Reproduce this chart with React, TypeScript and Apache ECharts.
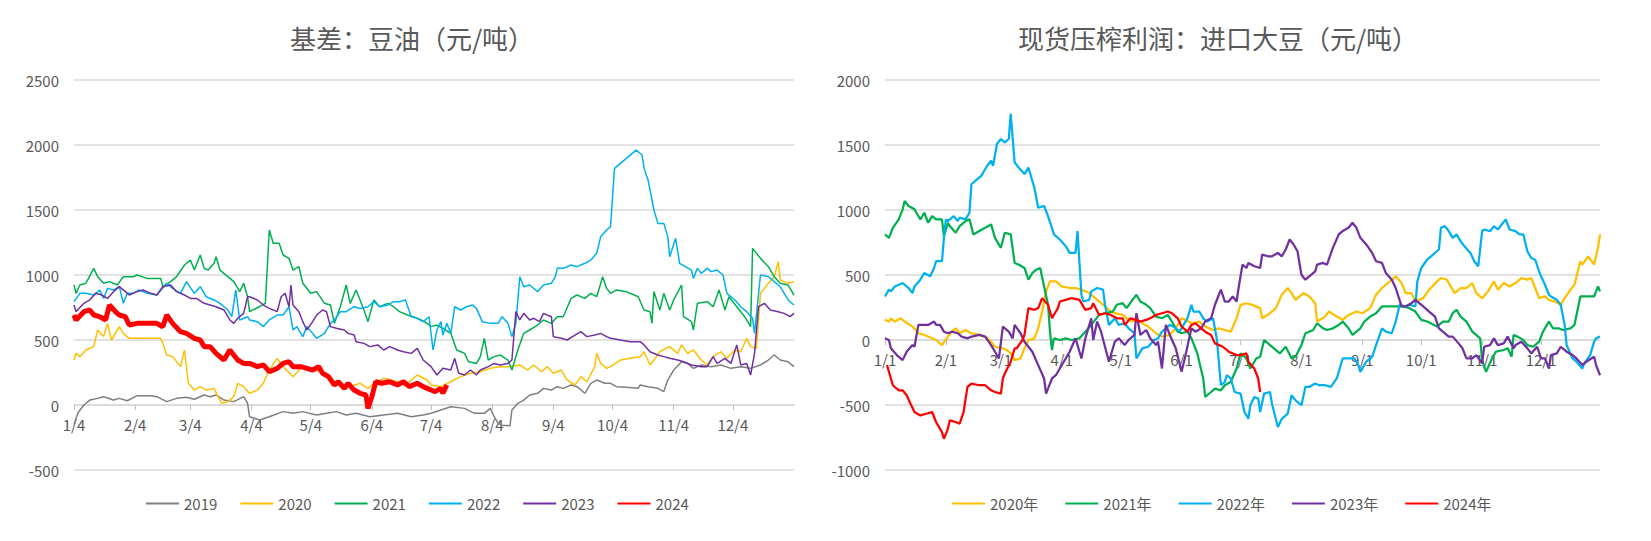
import React, { useEffect, useRef } from "react";
import * as echarts from "echarts";

// ---------- categories (day of year) ----------
const MONTH_DAYS = [31, 28, 31, 30, 31, 30, 31, 31, 30, 31, 30, 31];
function buildDays(startMonth: number, startDay: number, count: number): string[] {
  const out: string[] = [];
  let m = startMonth - 1;
  let d = startDay;
  for (let i = 0; i < count; i++) {
    out.push(`${m + 1}/${d}`);
    d++;
    if (d > MONTH_DAYS[m]) {
      d = 1;
      m = (m + 1) % 12;
    }
  }
  return out;
}
const basisCategories = buildDays(1, 4, 366); // 1/4 ... 1/4
const crushCategories = buildDays(1, 1, 365); // 1/1 ... 12/31

const basisTitle = "基差：豆油（元/吨）";
const crushTitle = "现货压榨利润：进口大豆（元/吨）";

const basisYears = ["2019", "2020", "2021", "2022", "2023", "2024"];
const crushYears = ["2020年", "2021年", "2022年", "2023年", "2024年"];

// ---------- left chart: soybean oil basis, [day index from 1/4, value] ----------
const basis2019 = [[0,-150],[2,-60],[5,0],[8,38],[12,51],[15,64],[20,38],[23,51],[27,33],[32,72],[39,72],[42,64],[47,26],[52,51],[57,59],[61,44],[66,77],[69,64],[72,77],[76,38],[81,26],[86,64],[88,13],
  [89,-90],[94,-115],[99,-90],[106,-51],[111,-64],[116,-51],[123,-77],[128,-64],[133,-51],[138,-77],[143,-64],[150,-90],[157,-77],[164,-64],[171,-90],[177,-77],
  [181,-64],[186,-38],[191,-13],[198,-26],[203,-64],[208,-64],[211,-26],[213,-90],[215,-141],[217,-155],[221,-160],[222,-38],[225,13],[228,38],[231,77],[235,90],[238,128],[242,115],[245,141],[248,128],[252,154],[255,141],[259,90],[262,167],[265,192],[269,167],
  [272,167],[275,141],[280,136],[286,128],[287,154],[291,141],[296,128],[299,103],[301,192],[304,269],[308,333],[311,320],[314,282],[318,308],[323,295],[328,308],[333,282],[338,295],[343,282],[348,308],[352,346],[355,385],[358,346],[362,333],[365,295]];

const basis2020 = [[0,346],[1,397],[3,372],[6,423],[10,449],[12,577],[15,526],[17,628],[19,500],[23,602],[25,551],[28,513],[32,513],[37,513],[44,513],[45,474],[47,385],[50,372],[54,295],[56,423],[58,167],[61,115],[64,141],[67,115],[71,128],[73,64],[75,13],[78,26],[81,64],[83,167],[86,141],
  [89,90],[93,115],[96,167],[99,269],[103,359],[106,295],[111,218],[115,282],[120,282],[125,256],[130,192],[135,167],[140,141],[145,167],[149,128],[152,167],[157,205],[164,179],[169,167],[174,231],[179,192],
  [181,154],[186,141],[191,179],[196,218],[201,244],[206,256],[211,282],[216,295],[221,295],[226,308],[230,269],[233,308],[237,256],[240,295],[243,244],[247,269],[250,192],[254,154],[257,218],[260,179],[264,295],[265,397],[267,320],[270,282],
  [272,295],[277,346],[282,359],[287,372],[289,410],[292,308],[294,346],[297,410],[302,449],[306,397],[308,462],[311,397],[314,423],[318,346],[321,308],[324,372],[328,410],[331,359],[335,423],[338,410],[341,513],[343,449],[346,436],[348,859],[352,936],[355,987],[357,1103],[358,962],[362,936],[365,949]];

const basis2021 = [[0,923],[1,859],[3,923],[6,936],[10,1051],[12,987],[15,936],[18,949],[22,923],[25,987],[30,987],[32,1000],[37,974],[44,974],[45,910],[49,949],[52,987],[56,1077],[59,1115],[61,1038],[64,1154],[66,1051],[68,1038],[71,1090],[72,1141],[74,1038],[78,987],[81,949],[84,872],[86,936],[88,833],
  [89,718],[94,756],[97,782],[99,1346],[101,1244],[104,1244],[106,1154],[109,1128],[111,1038],[114,1064],[116,936],[120,859],[123,872],[127,782],[130,769],[132,628],[135,756],[138,923],[140,782],[143,885],[147,731],[149,641],[152,808],[155,756],[159,782],[162,756],[165,718],[169,692],[172,679],[176,654],[179,628],
  [181,603],[184,615],[187,590],[191,551],[194,423],[198,397],[200,333],[204,320],[206,372],[208,513],[210,346],[213,372],[216,385],[220,346],[222,269],[225,423],[228,551],[231,577],[235,615],[238,654],[242,628],[245,679],[248,679],[252,820],[255,846],[259,820],[262,859],[265,833],[268,987],[270,897],
  [272,859],[275,885],[280,872],[286,833],[289,731],[292,718],[293,628],[294,872],[297,731],[299,859],[302,731],[304,808],[308,923],[309,679],[313,641],[314,577],[316,782],[321,795],[324,756],[327,885],[330,731],[332,833],[336,756],[340,679],[343,603],[344,1205],[348,1128],[352,1064],[355,987],[358,936],[362,923],[365,846]];

const basis2022 = [[0,795],[3,859],[6,859],[10,846],[13,885],[15,820],[17,897],[20,885],[23,910],[25,782],[27,859],[30,859],[33,885],[37,859],[42,846],[47,936],[50,897],[54,859],[57,949],[61,859],[64,910],[67,833],[71,808],[74,782],[78,731],[80,679],[82,885],[84,654],[88,679],
  [89,654],[93,641],[96,603],[99,654],[103,692],[106,692],[109,756],[111,577],[113,603],[116,526],[118,603],[121,551],[123,513],[127,551],[130,628],[132,654],[135,718],[138,718],[142,756],[145,743],[149,756],[152,795],[155,756],[159,769],[162,795],[165,795],[168,808],[171,679],[174,667],[177,641],[180,679],[182,423],
  [184,577],[186,641],[187,538],[189,628],[191,551],[193,756],[196,731],[199,756],[202,769],[204,743],[207,641],[211,628],[215,628],[217,679],[220,628],[222,526],[224,628],[226,987],[228,910],[231,923],[235,872],[238,923],[242,936],[244,987],[245,1051],[248,1051],[252,1077],[255,1064],[259,1090],[262,1115],[265,1167],[267,1295],[270,1346],
  [272,1372],[274,1820],[285,1961],[288,1923],[289,1820],[291,1731],[294,1500],[296,1397],[299,1397],[301,1295],[302,1141],[305,1282],[307,1090],[310,1064],[313,1038],[314,974],[316,1051],[318,1013],[321,1051],[323,1026],[326,1038],[329,1000],[331,859],[335,808],[338,756],[341,718],[344,667],[345,551],[348,1000],[352,987],[355,949],[358,910],[362,808],[365,769]];

const basis2023 = [[0,769],[1,718],[5,782],[8,808],[11,859],[14,846],[17,820],[20,872],[23,910],[26,872],[28,846],[32,872],[35,885],[39,859],[42,846],[45,910],[49,923],[52,872],[56,846],[59,820],[62,820],[66,782],[69,769],[72,756],[76,731],[79,654],[81,628],[83,667],[86,705],[88,833],
  [89,833],[93,808],[96,769],[99,743],[103,718],[105,833],[107,859],[109,756],[110,923],[111,769],[114,718],[116,641],[118,577],[121,641],[123,692],[126,731],[128,718],[130,603],[133,590],[137,577],[139,551],[142,538],[143,487],[147,474],[150,449],[154,462],[157,423],[160,449],[164,423],[167,410],[171,397],[174,436],[177,346],
  [181,295],[184,231],[187,282],[191,269],[193,359],[195,244],[198,231],[201,269],[204,231],[206,269],[210,295],[213,320],[216,308],[220,320],[222,346],[224,718],[226,654],[228,705],[231,654],[233,667],[236,641],[238,705],[242,679],[243,526],[247,513],[250,500],[254,538],[257,564],[260,526],[264,538],[267,551],[270,526],
  [272,513],[277,500],[282,487],[287,487],[289,462],[292,410],[296,385],[299,372],[302,359],[306,346],[309,333],[313,308],[318,295],[321,295],[324,372],[326,320],[330,359],[333,320],[336,462],[338,308],[341,320],[343,231],[345,397],[347,756],[350,782],[353,731],[357,718],[360,705],[363,680],[365,705]];

const basis2024 = [[0,692],[1,654],[5,718],[8,731],[10,692],[13,680],[16,654],[18,769],[21,718],[23,692],[26,680],[28,615],[32,628],[37,628],[42,628],[45,602],[47,692],[50,628],[54,564],[57,551],[61,513],[64,500],[66,449],[69,449],[72,397],[76,346],[79,423],[83,346],[86,320],
  [89,320],[93,295],[96,308],[99,256],[103,282],[106,320],[109,333],[111,295],[115,295],[118,282],[121,269],[124,295],[126,244],[129,218],[132,154],[134,179],[137,128],[139,167],[142,115],[145,90],[148,77],[149,-26],[151,64],[153,179],[156,167],[160,179],[164,154],[167,179],[170,141],[174,167],[177,141],[181,115],
  [183,103],[186,128],[187,90],[189,154]];

// ---------- right chart: crush margin, [day index from 1/1, value] ----------
const crush2020 = [[0,155],[2,142],[3,167],[5,142],[8,167],[10,142],[14,103],[17,52],[20,39],[24,13],[26,0],[29,-39],[32,26],[34,64],[36,90],[38,52],[41,77],[44,52],[48,39],[51,26],[54,-13],[56,-52],[60,-64],[62,-77],[64,-103],[66,-155],[69,-142],[71,-64],[73,0],[76,13],[78,90],[80,219],[82,374],[84,451],
  [87,451],[90,412],[94,400],[97,400],[100,387],[104,361],[107,322],[110,283],[112,258],[115,219],[117,206],[121,193],[123,167],[126,142],[128,155],[131,129],[134,103],[138,52],[141,26],[145,39],[148,90],[151,167],[153,155],[156,129],[160,142],[163,103],[167,77],[170,90],[173,77],[176,64],[179,167],
  [181,270],[184,283],[187,270],[191,245],[192,167],[196,206],[199,245],[202,348],[205,400],[207,361],[209,309],[213,361],[216,335],[219,283],[220,142],[224,180],[226,219],[230,180],[233,155],[236,193],[240,219],[243,206],[247,245],[250,348],[253,400],[257,451],[260,490],[263,438],[265,361],[268,361],[270,296],
  [274,322],[277,387],[281,451],[283,477],[286,464],[288,412],[290,361],[293,400],[296,400],[299,438],[301,361],[304,322],[307,374],[310,451],[312,387],[315,438],[318,412],[321,438],[324,477],[327,464],[329,477],[331,400],[333,322],[336,335],[338,309],[341,296],[344,271],[346,322],[349,387],[351,425],[354,606],[355,580],[358,644],[361,580],[363,709],[364,812]];

const crush2021 = [[0,812],[2,786],[4,863],[7,928],[9,1005],[10,1069],[12,1031],[15,1005],[16,979],[18,928],[20,979],[22,902],[24,953],[26,928],[29,928],[30,799],[32,902],[33,876],[36,825],[38,876],[41,915],[43,928],[45,812],[48,838],[51,863],[54,889],[56,786],[59,709],[61,825],[64,812],[66,593],[68,580],[71,554],[73,464],[75,515],[77,541],[79,554],[81,412],[83,271],[84,64],[85,-77],[86,13],
  [89,0],[92,13],[95,0],[99,13],[102,64],[105,116],[109,193],[112,206],[116,219],[118,271],[121,283],[123,245],[126,309],[128,348],[130,296],[133,271],[135,245],[138,180],[141,167],[144,193],[146,142],[149,64],[151,52],[154,64],[156,13],[159,-103],[162,-296],[163,-438],[166,-400],[168,-374],[171,-387],[173,-348],[176,-322],[179,-219],
  [181,-103],[184,-142],[186,-219],[189,-142],[191,-129],[193,0],[196,-39],[198,-64],[201,-103],[204,-52],[207,-142],[209,-129],[212,-39],[214,52],[218,77],[220,129],[223,90],[225,77],[228,90],[231,116],[233,142],[236,90],[238,39],[242,90],[244,142],[247,180],[250,206],[253,258],[257,258],[260,258],[264,258],[267,245],[270,219],[273,155],
  [276,142],[281,103],[284,142],[287,142],[289,206],[291,232],[293,180],[296,142],[299,64],[303,13],[304,-155],[306,-245],[309,-142],[311,-90],[315,-77],[317,-64],[319,-129],[320,39],[322,26],[325,0],[327,-39],[330,-52],[333,-13],[335,64],[338,142],[340,90],[343,90],[345,77],[349,90],[351,116],[354,335],[357,335],[361,335],[363,412],[364,374]];

const crush2022 = [[0,335],[2,387],[3,374],[5,412],[9,438],[12,400],[14,361],[15,412],[18,464],[20,515],[23,490],[25,554],[26,606],[29,606],[30,786],[31,928],[32,915],[35,953],[37,915],[38,941],[41,928],[43,979],[44,1198],[47,1237],[49,1263],[52,1340],[54,1379],[55,1340],[57,1508],[59,1546],[61,1520],[63,1546],[64,1739],[66,1366],[68,1327],[71,1276],[73,1327],[76,1173],[78,1018],[81,1031],[83,953],[86,812],
  [89,773],[92,722],[94,670],[97,670],[98,837],[100,348],[101,296],[104,309],[105,374],[108,400],[111,387],[112,271],[114,116],[117,167],[119,116],[122,129],[124,90],[127,52],[128,-142],[131,-64],[134,-52],[137,0],[139,13],[141,64],[145,116],[147,103],[150,64],[152,116],[154,167],[156,271],[157,219],[160,219],[162,167],[164,142],[167,167],[169,0],[171,-348],[173,-322],[174,-271],[176,-296],[178,-400],
  [181,-412],[183,-554],[185,-606],[186,-502],[188,-438],[190,-451],[191,-554],[193,-412],[196,-400],[197,-490],[200,-670],[202,-606],[205,-567],[207,-425],[209,-464],[212,-502],[214,-361],[216,-361],[219,-335],[221,-348],[224,-348],[227,-361],[230,-296],[233,-142],[236,-142],[239,-142],[241,-193],[242,-245],[245,-167],[248,-129],[250,-39],[253,90],[255,64],[258,52],[260,142],[262,271],[265,258],[267,271],[270,258],[271,451],[273,554],[276,618],
  [278,644],[282,696],[283,863],[285,876],[287,838],[289,786],[291,812],[293,760],[295,722],[298,670],[300,606],[302,567],[304,837],[305,850],[308,837],[310,876],[312,850],[316,928],[318,850],[321,838],[323,812],[325,812],[327,683],[329,631],[331,618],[333,528],[334,490],[336,425],[338,348],[339,335],[342,309],[344,271],[346,116],[347,-39],[350,-142],[352,-167],[355,-219],[356,-180],[359,-116],[361,-13],[362,13],[364,26]];

const crush2023 = [[0,13],[2,0],[3,-64],[6,-116],[9,-155],[11,-90],[14,-39],[15,-52],[17,116],[20,116],[22,116],[25,142],[26,116],[28,116],[30,64],[32,52],[34,64],[37,52],[39,26],[42,13],[44,26],[48,39],[51,26],[54,-39],[56,-90],[58,-142],[60,103],[63,64],[65,13],[66,116],[69,52],[71,-13],[75,-90],[78,-193],[81,-296],[82,-412],[83,-374],[85,-296],
  [87,-271],[89,-219],[92,-142],[94,-90],[97,13],[100,-142],[102,13],[105,167],[106,0],[108,142],[110,64],[112,-52],[114,-167],[117,-13],[119,13],[122,-39],[124,0],[127,39],[128,206],[130,39],[133,77],[135,13],[138,-39],[139,-13],[141,-219],[143,116],[145,39],[148,-64],[151,-245],[153,-116],[156,90],[158,64],[161,90],[163,142],[166,167],[168,271],[171,387],[173,296],[175,296],[177,335],[179,296],
  [180,400],[182,580],[184,554],[185,593],[188,567],[191,554],[192,657],[195,644],[197,644],[200,670],[202,644],[204,696],[206,773],[208,735],[210,683],[212,502],[214,464],[216,490],[219,528],[220,580],[223,593],[225,580],[228,709],[231,812],[233,838],[236,863],[238,902],[240,863],[242,786],[245,735],[248,670],[250,606],[253,593],[255,515],[258,464],[260,400],[263,258],[265,258],[268,283],[270,309],
  [274,258],[277,219],[280,180],[282,90],[284,64],[287,26],[289,26],[292,-26],[294,-64],[296,-142],[299,-142],[301,-116],[304,-180],[305,-52],[308,-39],[310,13],[312,-39],[315,-26],[317,26],[320,-64],[321,-39],[324,-13],[327,-64],[329,-103],[332,-52],[334,-142],[336,-142],[338,-219],[339,-116],[342,-103],[344,-52],[347,-90],[350,-116],[352,-142],[355,-193],[357,-167],[361,-129],[362,-193],[364,-271]];

const crush2024 = [[1,-193],[3,-296],[4,-348],[7,-387],[9,-387],[11,-425],[13,-490],[15,-554],[18,-580],[21,-567],[24,-554],[26,-631],[27,-657],[29,-709],[30,-760],[32,-683],[33,-618],[36,-631],[38,-644],[40,-554],[42,-361],[44,-335],[48,-348],[51,-348],[54,-387],[56,-400],[59,-412],[60,-296],[61,-258],[64,-167],[66,-64],[67,-64],[70,0],[71,39],[73,245],[76,232],[78,245],[80,322],[83,271],[85,167],
  [88,245],[89,296],[92,309],[95,322],[99,309],[102,232],[105,245],[106,283],[109,193],[112,206],[115,193],[118,167],[121,167],[122,116],[125,167],[128,155],[130,142],[133,155],[135,167],[138,193],[141,206],[144,219],[146,206],[149,167],[151,103],[154,64],[156,116],[158,129],[161,90],[163,64],[166,39],[168,-26],[172,-52],[175,-90],[179,-116],
  [181,-116],[184,-103],[185,-167],[188,-219],[190,-296],[191,-400]];

const basisSeriesData = [basis2019, basis2020, basis2021, basis2022, basis2023, basis2024];
const crushSeriesData = [crush2020, crush2021, crush2022, crush2023, crush2024];
const basisColors = ["#7f7f7f", "#ffc000", "#00b050", "#00b0f0", "#7030a0", "#ff0000"];
const basisWidths = [1.5, 1.5, 1.5, 1.5, 1.5, 5];
const crushColors = ["#ffc000", "#00b050", "#00b0f0", "#7030a0", "#ff0000"];

const FONT = "'Noto Sans CJK SC', 'Noto Sans', sans-serif";
const TEXT = "#595959";
const GRID_LINE = "#d9d9d9";

function xAxisFor(gridIndex: number, cats: string[], labelDay: string, zeroOffset: number) {
  const show = (i: number, v: string) => v.split("/")[1] === labelDay && i < cats.length - 3;
  return {
    type: "category",
    gridIndex,
    data: cats,
    boundaryGap: false,
    position: "bottom",
    offset: -zeroOffset,
    axisLine: { onZero: false, lineStyle: { color: GRID_LINE, width: 1.5 } },
    axisTick: { show: true, interval: show, length: 5, lineStyle: { color: "#bfbfbf" } },
    axisLabel: { interval: show, color: TEXT, fontSize: 15, fontFamily: FONT, margin: 12 },
    splitLine: { show: false },
  };
}

function yAxisFor(gridIndex: number, min: number, max: number) {
  return {
    type: "value",
    gridIndex,
    min,
    max,
    interval: 500,
    axisLine: { show: false },
    axisTick: { show: false },
    axisLabel: {
      color: TEXT,
      fontSize: 15,
      fontFamily: FONT,
      margin: 15,
      formatter: (v: number) => String(v),
    },
    splitLine: { lineStyle: { color: GRID_LINE, width: 1.5 } },
  };
}

export default function App() {
  const ref = useRef<HTMLDivElement>(null);
  useEffect(() => {
    if (!ref.current) return;
    const chart = echarts.init(ref.current, undefined, { renderer: "svg" });
    const series: any[] = [];
    basisYears.forEach((name, i) => {
      series.push({
        name,
        type: "line",
        xAxisIndex: 0,
        yAxisIndex: 0,
        data: basisSeriesData[i],
        symbol: "none",
        showSymbol: false,
        lineStyle: { color: basisColors[i], width: basisWidths[i] },
        itemStyle: { color: basisColors[i] },
        z: 2 + i,
      });
    });
    crushYears.forEach((name, i) => {
      series.push({
        name,
        type: "line",
        xAxisIndex: 1,
        yAxisIndex: 1,
        data: crushSeriesData[i],
        symbol: "none",
        showSymbol: false,
        lineStyle: { color: crushColors[i], width: 2.25 },
        itemStyle: { color: crushColors[i] },
        z: 2 + i,
      });
    });
    const legendBase = {
      top: 491,
      itemWidth: 33,
      itemHeight: 14,
      itemStyle: { opacity: 0 },
      textStyle: { color: TEXT, fontSize: 15, fontFamily: FONT },
    };
    chart.setOption({
      animation: false,
      backgroundColor: "#ffffff",
      grid: [
        { left: 74, width: 720, top: 80, height: 390 },
        { left: 885, width: 715, top: 80, height: 390 },
      ],
      xAxis: [
        xAxisFor(0, basisCategories, "4", 65),
        xAxisFor(1, crushCategories, "1", 130),
      ],
      yAxis: [yAxisFor(0, -500, 2500), yAxisFor(1, -1000, 2000)],
      legend: [
        { ...legendBase, data: basisYears, left: 140, itemGap: 22 },
        { ...legendBase, data: crushYears, left: 946, itemGap: 26 },
      ],
      graphic: [
        {
          type: "text",
          x: 412,
          y: 37,
          style: {
            text: basisTitle,
            textAlign: "center",
            textVerticalAlign: "middle",
            align: "center",
            verticalAlign: "middle",
            fontSize: 26,
            fontFamily: FONT,
            fill: TEXT,
          },
        },
        {
          type: "text",
          x: 1218,
          y: 37,
          style: {
            text: crushTitle,
            textAlign: "center",
            textVerticalAlign: "middle",
            align: "center",
            verticalAlign: "middle",
            fontSize: 26,
            fontFamily: FONT,
            fill: TEXT,
          },
        },
      ],
      series,
    });
    return () => chart.dispose();
  }, []);
  return (
    <div
      ref={ref}
      style={{ position: "fixed", left: 0, top: 0, width: 1651, height: 541, background: "#fff" }}
    />
  );
}
